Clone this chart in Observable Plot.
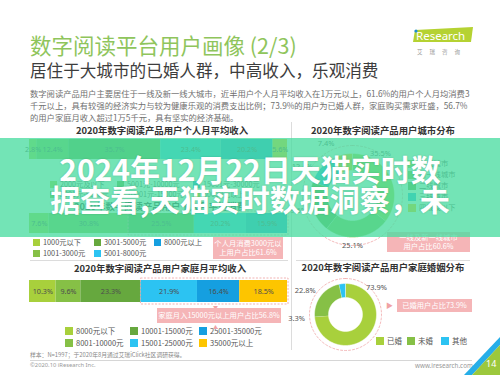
<!DOCTYPE html>
<html><head><meta charset="utf-8">
<script src="https://cdn.jsdelivr.net/npm/d3@7"></script>
<script src="https://cdn.jsdelivr.net/npm/@observablehq/plot@0.6"></script>
<style>
body{margin:0;background:#fff;}
#page{position:relative;width:500px;height:375px;overflow:hidden;background:#fff;font-family:"Noto Sans CJK SC","Noto Sans",sans-serif;}
.a{position:absolute;white-space:nowrap;line-height:1;}
.ctitle{font-weight:700;font-size:9.4px;color:#333;text-align:center;}
.pink{background:#f5b5b7;color:#fff;font-size:7.3px;text-align:center;display:flex;align-items:center;justify-content:center;line-height:1.25;}
.lg{position:absolute;display:grid;grid-auto-flow:column;color:#555;line-height:1;white-space:nowrap;}
.lg span.sw{display:inline-block;vertical-align:middle;margin-right:3px;}
.lg div{display:flex;align-items:center;}
</style></head>
<body><div id="page"></div>
<script>
// ---------- data ----------
const incomeCats = ["2000元及以下","2001元-5000元","5001元-10000元","10001元-15000元","15001元-30000元","30000元以上"];
const incomeVals = [2.8,12.4,35.7,23.4,20.2,5.6];
const spendCats = ["1000元以下","1001-3000元","3001-5000元","5001-8000元","8000元以上"];
const spendVals = [7.6,30.8,25.5,20.2,15.9];
const familyCats = ["8000元以下","8001-10000元","10001-15000元","15001-25000元","25001-35000元","35000元以上"];
const familyVals = [10.3,9.6,23.3,21.9,16.4,18.5];
const cityCats = ["一线城市","新一线城市","二线城市","三线城市","四线及以下"];
const cityVals = [35.5,25.1,19.6,12.4,7.4];
const maritalCats = ["已婚","未婚","其他"];
const maritalVals = [73.9,22.8,3.3];

const palette6 = ["#a8d03c","#86c046","#66a83e","#2cc3f2","#159fe0","#fdc500"];
const spendColors = palette6.slice(0,5);
const cityColors = ["#a8d03c","#86c046","#66a83e","#1fb0e8","#fdc500"];
const maritalColors = ["#a8d03c","#86c046","#2cc3f2"];

const page = document.getElementById("page");
function add(html, cls, css){const d=document.createElement("div");d.className=cls;d.style.cssText=css;d.innerHTML=html;page.appendChild(d);return d;}
function placeNode(node, left, top){node.style.position="absolute";node.style.left=left+"px";node.style.top=top+"px";page.appendChild(node);return node;}

// ---------- header ----------
add("数字阅读平台用户画像 (2/3)","a","left:30px;top:34px;font-size:21.5px;color:#8fc55c;");
add("居住于大城市的已婚人群，中高收入，乐观消费","a","left:30px;top:62px;font-size:16.6px;color:#3d3d3d;");
add("数字阅读产品用户主要居住于一线及新一线大城市，近半用户个人月平均收入在1万元以上，61.6%的用户个人月均消费3<br>千元以上，具有较强的经济实力与较为健康乐观的消费支出比例；73.9%的用户为已婚人群，家庭购买需求旺盛，56.7%<br>的用户家庭月收入超过1万5千元，具有坚实的经济基础。","a","left:30px;top:87px;font-size:8.3px;line-height:12px;color:#707070;");
// logo
add(`<svg width="62" height="30" viewBox="0 0 62 30"><polygon points="2,3 60,0 58,15 0,15" fill="#b5d232"/><circle cx="3" cy="4" r="1.6" fill="#1a8fd6"/><text x="3" y="12.5" font-size="11.5" fill="#fff" font-family="Noto Sans">Research</text><text x="4" y="27" font-size="5.5" fill="#999" letter-spacing="7" font-family="Noto Sans CJK SC">艾瑞咨询</text></svg>`,"a","left:413px;top:27px;");

// ---------- separators ----------
add("","a","left:291px;top:122px;width:1px;height:228px;background:#dcdcdc;");
add("","a","left:30px;top:260px;width:258px;height:1px;background:#dcdcdc;");
add("","a","left:296px;top:260px;width:174px;height:1px;background:#dcdcdc;");
add("","a","left:30px;top:360px;width:442px;height:1px;background:#d6d6d6;");

// ---------- chart titles ----------
add("2020年数字阅读产品用户个人月平均收入","a ctitle","left:33px;top:126px;width:258px;");
add("2020年数字阅读产品用户城市分布","a ctitle","left:296px;top:126px;width:174px;");
add("2020年数字阅读产品用户个人月平均消费","a ctitle","left:31px;top:202px;width:258px;");
add("2020年数字阅读产品用户家庭月平均收入","a ctitle","left:31px;top:264px;width:258px;");
add("2020年数字阅读产品用户家庭婚姻分布","a ctitle","left:296px;top:263px;width:174px;");

// ---------- stacked bars ----------
function stackedBar(cats, vals, colors, h, pad, boxFrom){
  const data = cats.map((c,i)=>({cat:c, value:vals[i]}));
  const total = d3.sum(vals);
  const marks = [
    Plot.barX(data, Plot.stackX({x:"value", fill:"cat"})),
    Plot.text(data, Plot.stackX({x:"value", text:d=>d.value.toFixed(1)+"%", fill:"#4d4d4d", fontSize:7.2, fontFamily:"Noto Sans"}))
  ];
  if (boxFrom != null) {
    const start = d3.sum(vals.slice(0,boxFrom));
    marks.push(Plot.rect([{a:start,b:total}], {x1:"a", x2:"b", fill:"none", stroke:"#ee9ea0", strokeDasharray:"2,1.5", strokeWidth:0.8, insetTop:-2, insetBottom:-2, insetRight:-1}));
  }
  return Plot.plot({width:258, height:h, marginTop:pad, marginBottom:pad, marginLeft:0, marginRight:0,
    x:{domain:[0,total], axis:null}, y:{axis:null},
    color:{domain:cats, range:colors},
    style:{background:"transparent", overflow:"visible"},
    marks});
}
placeNode(stackedBar(incomeCats, incomeVals, palette6, 20, 0, null), 29, 139);
placeNode(stackedBar(spendCats, spendVals, spendColors, 24, 2, 2), 29, 211);
placeNode(stackedBar(familyCats, familyVals, palette6, 28, 3, 3), 29, 277);

// ---------- legends ----------
function legend(cats, colors, left, top, cols, rows, rowH, sw, fs){
  const d = document.createElement("div");
  d.className = "lg";
  d.style.cssText = `left:${left}px;top:${top}px;grid-template-rows:repeat(${rows},${rowH}px);grid-template-columns:${cols};font-size:${fs}px;`;
  cats.forEach((c,i)=>{
    const it = document.createElement("div");
    it.innerHTML = `<span class="sw" style="width:${sw}px;height:${sw}px;background:${colors[i]}"></span>${c}`;
    d.appendChild(it);
  });
  page.appendChild(d);
}
legend(incomeCats, palette6, 50, 179, "67px 76px auto", 2, 10.5, 7, 7.2);
legend(spendCats, spendColors, 33, 237, "61px 60px auto", 2, 11, 7, 7.3);
legend(familyCats, palette6, 65, 325, "65px 69px auto", 2, 12, 8, 7.5);
legend(cityCats, cityColors, 408, 158, "auto", 5, 11, 8, 7.3);
legend(maritalCats, maritalColors, 376, 335, "31px 34px auto", 1, 11, 8, 7.5);

// pink callouts
add("个人月消费3000元以<br>上用户占比61.6%","a pink","left:213px;top:237px;width:70px;height:22px;");
add("▼","a","left:213px;top:304px;font-size:5px;color:#f0a2a4;");
add("家庭月入15000元以上用户占比56.8%","a pink","left:157px;top:308px;width:124px;height:15px;");
add("▲","a","left:213px;top:324px;font-size:5px;color:#f0a2a4;");
add("一线及新一线城市<br>用户占比60.6%","a pink","left:387px;top:232px;width:83px;height:20px;");
add("▶","a","left:386px;top:302px;font-size:7px;color:#f0a2a4;");
add("已婚用户占比73.9%","a pink","left:397px;top:299px;width:75px;height:13px;");

// ---------- donuts ----------
function donut(cats, vals, colors, size, R, r, ring, labelAng, labelR){
  const arcs = d3.pie().sort(null).value(v=>v)(vals);
  const pts = [];
  arcs.forEach((a,i)=>{
    const n = Math.max(6, Math.ceil((a.endAngle-a.startAngle)*60));
    for(let k=0;k<=n;k++){const t=a.startAngle+(a.endAngle-a.startAngle)*k/n;pts.push({cat:cats[i],x:R*Math.sin(t),y:R*Math.cos(t)});}
    for(let k=n;k>=0;k--){const t=a.startAngle+(a.endAngle-a.startAngle)*k/n;pts.push({cat:cats[i],x:r*Math.sin(t),y:r*Math.cos(t)});}
  });
  const circ = d3.range(0,361,4).map(d=>({x:ring*Math.sin(d*Math.PI/180), y:ring*Math.cos(d*Math.PI/180)}));
  const labels = vals.map((v,i)=>({t:v.toFixed(1)+"%", x:labelR[i]*Math.sin(labelAng[i]*Math.PI/180), y:labelR[i]*Math.cos(labelAng[i]*Math.PI/180)}));
  return Plot.plot({width:size, height:size, margin:0,
    x:{domain:[-size/2,size/2], axis:null}, y:{domain:[-size/2,size/2], axis:null},
    color:{domain:cats, range:colors},
    style:{background:"transparent", overflow:"visible"},
    marks:[
      Plot.line(circ, {x:"x", y:"y", stroke:"#f0a8aa", strokeWidth:0.8, strokeDasharray:"2,2"}),
      Plot.line(pts, {x:"x", y:"y", z:"cat", fill:"cat", stroke:"#fff", strokeWidth:0.5}),
      Plot.text(labels, {x:"x", y:"y", text:"t", fill:"#555", fontSize:7.5, fontFamily:"Noto Sans"})
    ]});
}
placeNode(donut(cityCats, cityVals, cityColors, 140, 42, 25, 50, [34,180,255,300,333], [50,50,58,58,58]), 282, 125);
placeNode(donut(maritalCats, maritalVals, maritalColors, 110, 31, 17, 36, [49,301,265], [41,47,49]), 290, 259);

// ---------- footer ----------
add("样本：N=1997；于2020年8月通过艾瑞iClick社区调研获得。","a","left:30px;top:352px;font-size:5.8px;color:#888;");
add("©2020.10 iResearch Inc.","a","left:30px;top:363px;font-size:5.8px;color:#999;font-family:'Noto Sans';");
add("www.iresearch.com.cn","a","left:415px;top:363px;font-size:6.3px;color:#999;font-family:'Noto Sans';");
add(`<svg width="40" height="40"><polygon points="4,40 40,2 40,10 12,40" fill="#26aee8"/><polygon points="12,40 40,10 40,40" fill="#9cc83c"/><text x="26" y="32" font-size="9" fill="#fff" font-family="Noto Sans">14</text></svg>`,"a","left:460px;top:335px;");

// ---------- overlay banner ----------
add("2024年12月22日天猫实时数<br>据查看,天猫实时数据洞察，未","a",
 "left:0;top:138px;width:500px;height:99px;background:rgba(76,220,162,0.78);color:#fff;font-weight:700;font-size:30px;line-height:30px;text-align:center;padding-top:15px;box-sizing:border-box;text-shadow:0 0 2px rgba(0,0,0,0.18);z-index:10;");
</script>
</body></html>
